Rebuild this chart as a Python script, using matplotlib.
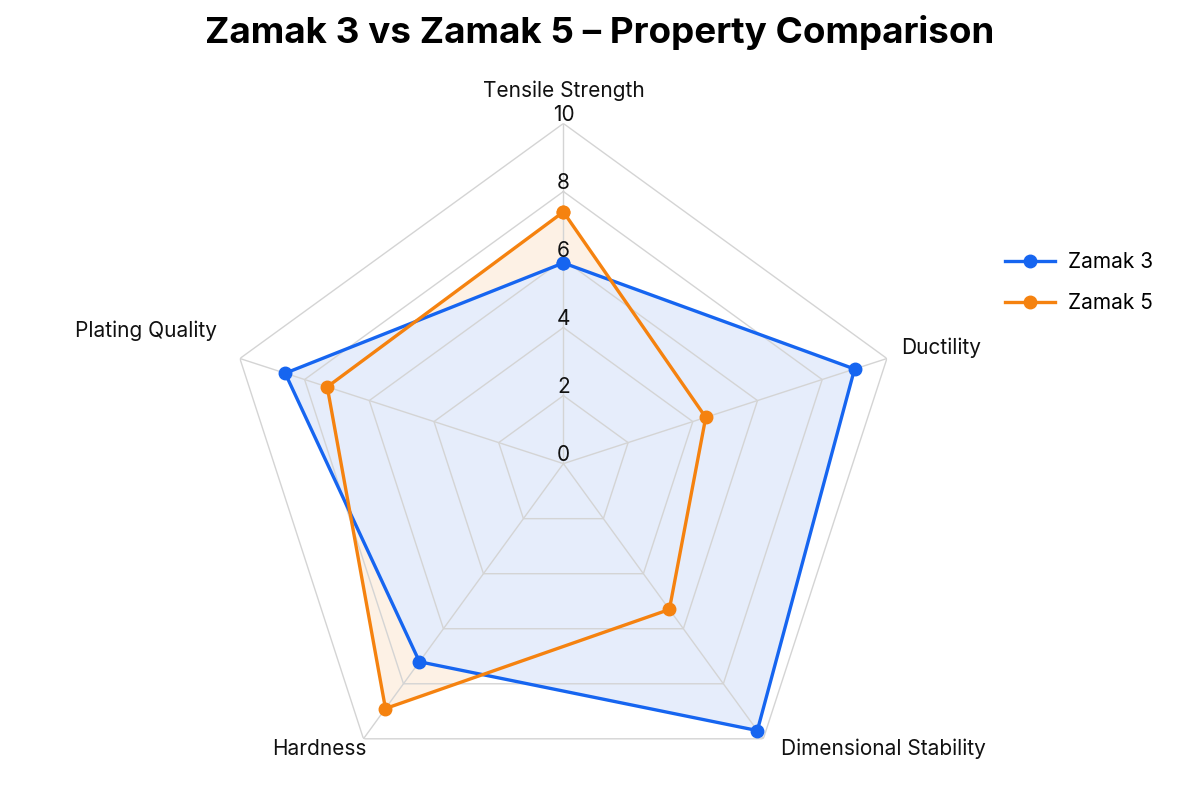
import numpy as np
import matplotlib
matplotlib.use("Agg")
import matplotlib.pyplot as plt

plt.rcParams['font.family'] = ['Inter', 'DejaVu Sans']

categories = ["Tensile Strength", "Ductility", "Dimensional Stability", "Hardness", "Plating Quality"]
zamak3 = [5.9, 9.0, 9.7, 7.2, 8.6]
zamak5 = [7.4, 4.4, 5.3, 8.9, 7.3]
series_names = ["Zamak 3", "Zamak 5"]
r_ticks = [0, 2, 4, 6, 8, 10]
title = "Zamak 3 vs Zamak 5 – Property Comparison"

blue = "#1665f0"
orange = "#f5820f"
blue_fill = "#e6edfb"
orange_fill = "#fdf1e5"
grid_c = "#d4d4d4"

n = len(categories)
angles = np.linspace(0, 2 * np.pi, n, endpoint=False)
ang_c = np.concatenate([angles, angles[:1]])

fig = plt.figure(figsize=(12, 8.07), dpi=100)
ax = fig.add_axes([0.186, 0.004, 0.567, 0.843], polar=True)
ax.set_theta_offset(np.pi / 2)
ax.set_theta_direction(-1)
ax.set_ylim(0, 10)
ax.grid(False)
ax.spines['polar'].set_visible(False)
ax.set_xticks([])
ax.set_yticks([])
ax.patch.set_alpha(0)

# fills (orange below, blue above)
v5 = list(zamak5) + [zamak5[0]]
v3 = list(zamak3) + [zamak3[0]]
ax.fill(ang_c, v5, color=orange_fill, zorder=1)
ax.fill(ang_c, v3, color=blue_fill, zorder=1.5)

# polygon grid
for t in r_ticks[1:]:
    ax.plot(ang_c, [t] * (n + 1), color=grid_c, lw=1.0, zorder=2)
for a in angles:
    ax.plot([a, a], [0, r_ticks[-1]], color=grid_c, lw=1.0, zorder=2)

# radial tick labels along top spoke
for t in r_ticks:
    ax.annotate(str(t), xy=(0, t), xytext=(0, 6), textcoords="offset points",
                ha="center", va="center", fontsize=15, color="#111111", zorder=6)

# series lines
for v, col, name in [(v3, blue, series_names[0]), (v5, orange, series_names[1])]:
    ax.plot(ang_c, v, color=col, lw=2.4, marker="o", markersize=9, label=name, zorder=4)

# category labels
label_cfg = [
    (0.0, 10.95, "center", "center"),
    (np.deg2rad(71), 10.5, "left", "center"),
    (np.deg2rad(142.6), 10.55, "left", "center"),
    (np.deg2rad(214.6), 10.2, "right", "center"),
    (np.deg2rad(291), 10.9, "right", "center"),
]
for cat, (a, r, ha, va) in zip(categories, label_cfg):
    ax.text(a, r, cat, ha=ha, va=va, fontsize=15, color="#111111")

fig.suptitle(title, fontsize=26.5, fontweight="bold", y=0.982, x=0.5)

leg = fig.legend(loc="center left", bbox_to_anchor=(0.822, 0.65), frameon=False,
                 fontsize=15, handlelength=2.4, handletextpad=0.6, labelspacing=1.0)

fig.savefig("out.png", dpi=100)
